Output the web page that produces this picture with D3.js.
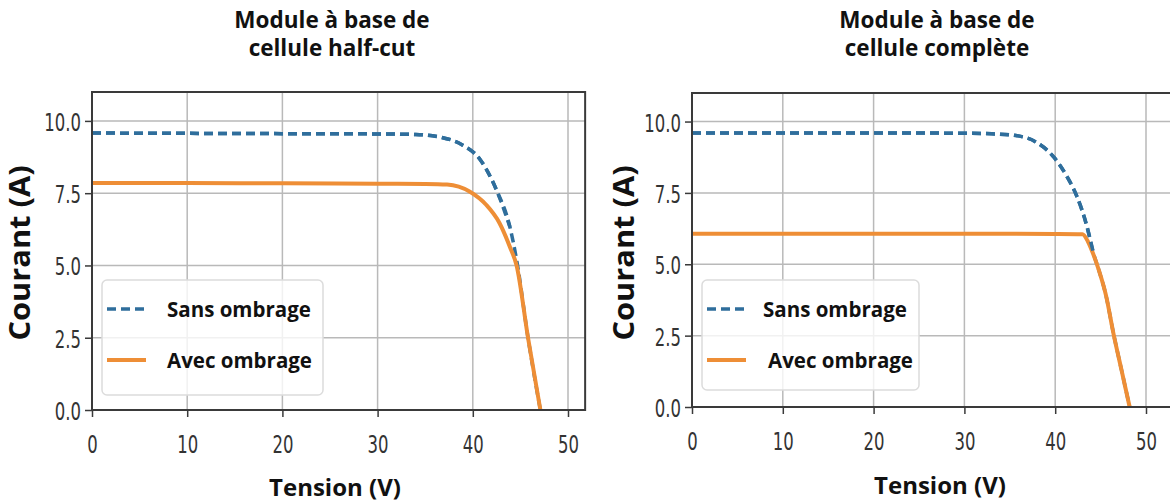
<!DOCTYPE html>
<html>
<head>
<meta charset="utf-8">
<script src="https://cdn.jsdelivr.net/npm/d3@7"></script>
<style>
	body { margin: 0; background: #fff; }
	svg { display: block; }
</style>
</head>
<body>
<svg id="chart"></svg>
<script>
// values
const xTicks		= [0, 10, 20, 30, 40, 50];
const yTicks		= [0, 2.5, 5, 7.5, 10];
const panelTitles	= [['Module à base de', 'cellule half-cut'], ['Module à base de', 'cellule complète']];
const seriesNames	= ['Sans ombrage', 'Avec ombrage'];
const xLabel		= 'Tension (V)';
const yLabel		= 'Courant (A)';

// half-cut module
const halfSansV		= [0, 10, 20, 30, 34, 36.7, 38.9, 40.8, 42.5, 43.9, 44.6, 45.8, 47.1];
const halfSansI		= [9.58, 9.57, 9.56, 9.55, 9.53, 9.43, 9.17, 8.65, 7.6, 6.33, 5.2, 2.5, 0];
const halfAvecV		= [0, 10, 20, 30, 35, 37.3, 39.7, 41.4, 42.8, 43.9, 44.6, 45.8, 47.1];
const halfAvecI		= [7.85, 7.85, 7.84, 7.83, 7.82, 7.8, 7.55, 7.1, 6.47, 5.64, 5.0, 2.5, 0];

// full cell module
const fullSansV		= [0, 10, 20, 30, 33, 35.4, 38.0, 39.8, 41.3, 42.4, 43.5, 44.2, 44.8, 45.6, 46.4, 47.3, 48.2];
const fullSansI		= [9.6, 9.6, 9.6, 9.59, 9.57, 9.52, 9.26, 8.77, 8.07, 7.37, 6.32, 5.4, 4.8, 3.9, 2.6, 1.3, 0];
const fullAvecV		= [0, 10, 20, 30, 40, 43.0, 43.6, 44.2, 44.8, 45.6, 46.4, 47.3, 48.2];
const fullAvecI		= [6.07, 6.07, 6.07, 6.07, 6.06, 6.05, 5.8, 5.35, 4.8, 3.9, 2.6, 1.3, 0];

const colors		= ['#2f6e9c', '#ee8e36'];
const labelFont		= '"Open Sans", Lato, sans-serif';

let svg = d3.select('#chart')
	.attr('width', 1170)
	.attr('height', 504);

let panels = [
	{ left: 92, top: 92, bottom: 410, xMax: 51.8, pxPerV: 9.52, titleX: 332, labelX: 335, labelY: 496, ylabelX: 30,
		series: [[halfSansV, halfSansI], [halfAvecV, halfAvecI]],
		legend: { x: 102, y: 280, w: 221, h: 115, textX: [167, 167] } },
	{ left: 692, top: 93, bottom: 407, xMax: 53.5, pxPerV: 9.08, titleX: 937, labelX: 940, labelY: 494, ylabelX: 634,
		series: [[fullSansV, fullSansI], [fullAvecV, fullAvecI]],
		legend: { x: 702, y: 280, w: 217, h: 110, textX: [763, 768] } }
];

const tickScale = 1.55;

panels.forEach((p, pi) => {
	let x = d3.scaleLinear().domain([0, p.xMax]).range([p.left, p.left + p.xMax * p.pxPerV]);
	let y = d3.scaleLinear().domain([0, 11]).range([p.bottom, p.top]);
	let g = svg.append('g').attr('class', 'panel-' + pi);

	// grid
	g.append('g').selectAll('line').data(xTicks.slice(1)).enter()
		.append('line')
			.attr('x1', (d) => x(d)).attr('x2', (d) => x(d))
			.attr('y1', p.top).attr('y2', p.bottom)
			.attr('stroke', '#b9b9b9').attr('stroke-width', 1.5);
	g.append('g').selectAll('line').data(yTicks.slice(1)).enter()
		.append('line')
			.attr('x1', p.left).attr('x2', x(p.xMax))
			.attr('y1', (d) => y(d)).attr('y2', (d) => y(d))
			.attr('stroke', '#b9b9b9').attr('stroke-width', 1.5);

	// curves
	let line = d3.line().curve(d3.curveMonotoneX).x((d) => x(d[0])).y((d) => y(d[1]));
	p.series.forEach((s, si) => {
		let pts = s[0].map((v, i) => [v, s[1][i]]);
		g.append('path')
			.attr('d', line(pts))
			.attr('fill', 'none')
			.attr('stroke', colors[si])
			.attr('stroke-width', si == 0 ? 3.5 : 4)
			.attr('stroke-dasharray', si == 0 ? '9,5' : null);
	});
	// upper part of the dashed curve stays visible over the orange one
	let s0 = p.series[0];
	g.append('path')
		.attr('d', line(s0[0].map((v, i) => [v, s0[1][i]]).filter((d) => d[1] > 5.2)))
		.attr('fill', 'none')
		.attr('stroke', colors[0])
		.attr('stroke-width', 3.5)
		.attr('stroke-dasharray', '9,5');

	// frame
	g.append('rect')
		.attr('x', p.left).attr('y', p.top)
		.attr('width', x(p.xMax) - p.left).attr('height', p.bottom - p.top)
		.attr('fill', 'none').attr('stroke', '#3a3a3a').attr('stroke-width', 2);

	// axes
	let xAxis = g.append('g')
		.attr('transform', 'translate(0,' + p.bottom + ')')
		.call(d3.axisBottom(x).tickValues(xTicks).tickSize(7).tickFormat(d3.format('d')));
	xAxis.select('.domain').remove();
	xAxis.selectAll('line').attr('stroke', '#3a3a3a').attr('stroke-width', 1.5);
	xAxis.selectAll('text')
		.attr('y', 43 / tickScale).attr('dy', null)
		.attr('transform', 'scale(1,' + tickScale + ')');

	let yAxis = g.append('g')
		.attr('transform', 'translate(' + p.left + ',0)')
		.call(d3.axisLeft(y).tickValues(yTicks).tickSize(7).tickFormat(d3.format('.1f')));
	yAxis.select('.domain').remove();
	yAxis.selectAll('line').attr('stroke', '#3a3a3a').attr('stroke-width', 1.5);
	yAxis.selectAll('text')
		.attr('x', -11).attr('y', 9.5 / tickScale).attr('dy', null)
		.attr('transform', 'scale(1,' + tickScale + ')');

	g.selectAll('.tick text')
		.attr('font-family', 'DejaVu Sans')
		.attr('font-size', 16.5)
		.attr('fill', '#333');

	// legend
	let L = p.legend;
	let lg = g.append('g').attr('class', 'legend');
	lg.append('rect')
		.attr('x', L.x).attr('y', L.y).attr('width', L.w).attr('height', L.h)
		.attr('rx', 5)
		.attr('fill', '#fff').attr('fill-opacity', 0.8)
		.attr('stroke', '#dcdcdc').attr('stroke-width', 1.5);
	seriesNames.forEach((name, si) => {
		let ly = L.y + 29 + si * 51;
		lg.append('line')
			.attr('x1', L.x + 5).attr('x2', L.x + 44)
			.attr('y1', ly).attr('y2', ly)
			.attr('stroke', colors[si])
			.attr('stroke-width', si == 0 ? 3.5 : 4)
			.attr('stroke-dasharray', si == 0 ? '9,5' : null);
		lg.append('text')
			.attr('x', L.textX[si]).attr('y', ly + 8)
			.attr('font-family', labelFont).attr('font-weight', 'bold').attr('font-size', 20.5)
			.attr('fill', '#111')
			.text(name);
	});

	// titles
	panelTitles[pi].forEach((t, ti) => {
		svg.append('text')
			.attr('x', p.titleX).attr('y', 28 + ti * 28)
			.attr('text-anchor', 'middle')
			.attr('font-family', labelFont).attr('font-weight', 'bold').attr('font-size', 22.5)
			.attr('fill', '#111')
			.text(t);
	});

	svg.append('text')
		.attr('x', p.labelX).attr('y', p.labelY)
		.attr('text-anchor', 'middle')
		.attr('font-family', labelFont).attr('font-weight', 'bold').attr('font-size', 24)
		.attr('fill', '#111')
		.text(xLabel);

	svg.append('text')
		.attr('transform', 'translate(' + p.ylabelX + ',' + 253 + ') rotate(-90) scale(1.1,1)')
		.attr('text-anchor', 'middle')
		.attr('font-family', labelFont).attr('font-weight', 'bold').attr('font-size', 28)
		.attr('fill', '#111')
		.text(yLabel);
});
</script>
</body>
</html>
